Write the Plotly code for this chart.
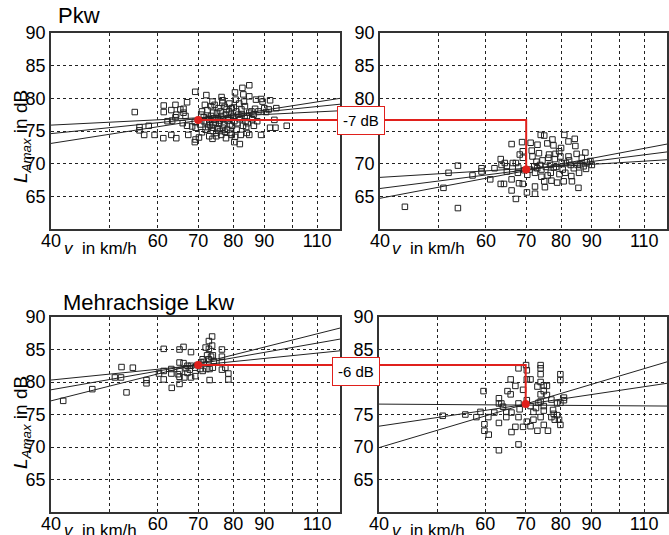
import plotly.graph_objects as go
import math

# ---------------- data ----------------
# Pkw, left panel (v in km/h, LAmax in dB)
pkw_a_v = [55,56,56,58,57,59.3,61.4,61.4,61.3,62.3,63.4,64.2,63.2,64.4,64.2,63.2,64.4,65.4,66.2,66.2,
           67.1,66.7,67.1,66,67.4,69.2,69.1,69.3,69.3,69.1,70.2,68.4,72.2,71.0,71.5,72.3,72.7,73.0,73.9,73.5,
           74.1,74.4,73.9,73.9,75.0,75.2,75.6,75.8,76.5,76.7,76.4,76.9,76.4,77.4,77.8,78.3,79.1,80.5,80.7,80.9,
           80.3,79.6,82.3,82.8,83.1,83.3,83.6,84.2,84.0,85.0,85.0,85.7,86.4,84.2,85.0,87.2,88.9,89.4,90.0,92.0,
           91.5,88.9,90.6,93.5,93.9,94.2,98.0,92.0,87.6,
           71.5,72,73,73.5,74,74.8,75.5,76,76.2,77,77.5,78,78.5,79,79.5,80,80.3,81,81.5,82,82.5,83,83.5,84.5,
           86,86.5,72.5,74.5,76.8,78.8,71,70.5,75,77.8,80.5,82,79.5,85,
           70.8,71.8,72.8,73.2,74.2,75.3,76.0,77.2,78.1,78.7,79.3,80.1,81.2,81.8,82.6,83.8,86.9,88]
pkw_a_L = [77.9,75.6,75.1,75.8,74.4,74.4,78.9,77.9,73.9,76.5,76.6,79.0,78.2,77.5,77.1,74.4,73.9,78.3,77.8,78.4,
           79.4,77.3,75.8,76.2,74.4,81.0,76.4,75.5,73.7,73.3,74.0,75.7,80.5,78.0,77.1,76.2,75.6,74.2,79.5,78.8,
           77.8,76.7,75.5,73.8,74.7,77.8,78.5,76.1,80.2,79.3,77.3,75.5,74.4,78.7,77.5,76.6,74.7,80.9,79.8,78.0,
           73.3,75.8,74.4,81.6,80.6,79.5,78.8,77.2,75.6,82.0,80.3,78.0,77.5,74.7,74.4,79.8,79.9,79.5,78.5,79.7,
           78.3,74.4,77.9,76.7,75.5,78.5,75.8,75.5,76.5,
           76.5,75.2,76.8,77.3,75.0,76.3,77.0,75.0,78.0,76.8,74.9,78.3,77.0,76.0,78.5,77.2,76.5,75.2,77.5,76.8,
           78.3,75.8,77.0,76.2,76.8,75.8,78.2,79.0,79.7,79.2,74.8,76.0,74.2,73.9,74.1,73.0,74.4,77.8,
           77.5,79.0,77.0,75.9,76.0,75.4,76.6,76.0,75.2,78.0,77.5,78.6,76.2,79.2,77.6,76.5,78.4,78.0]

# Pkw, right panel
pkw_b_v = [44.0,53.9,53.9,52,51,57,59,59,61,62,63.5,63.5,64.3,63.7,64.5,65,65,66.2,66.5,66.2,
           66.2,67.3,67.3,67.8,68.1,68.3,68.9,69.1,69.1,69.1,70.2,71.2,71.5,71.7,72.2,72.4,72.4,72.4,73.1,73.5,
           73.8,74.2,74.2,74.0,75.0,75.0,75.2,75.9,76.4,76.7,76.9,77.1,77.4,77.7,78.1,78.5,78.8,79.4,79.8,80.2,
           80.5,80.8,81.0,82.3,82.3,83.0,83.2,83.4,84.3,84.5,84.9,85.2,85.5,85.7,86.6,87.2,87.8,88.0,88.3,89.5,
           90.0,81.5,
           71,70.3,73,75.5,76,77.8,79.5,81.3,74.5,76.2,78.3,80,82.5,84,86,69.5,72.8,67.9]
pkw_b_L = [63.4,63.2,69.7,68.6,66.3,68.2,69.3,68.8,67.6,69.3,70.7,66.9,66.9,69.8,70.1,69.6,68.8,73.0,70.1,67.6,
           65.9,64.6,70.1,68.6,67.0,71.4,73.3,71.9,70.9,66.9,65.6,73.2,72.0,71.1,69.6,68.6,66.5,65.4,72.9,71.6,
           69.8,69.1,68.0,74.4,74.3,67.3,66.4,73.1,71.4,69.8,68.6,67.4,73.7,72.8,70.7,69.5,67.1,71.9,71.1,70.1,
           69.1,67.3,74.4,73.4,71.1,69.8,68.1,67.3,73.8,72.7,71.5,69.8,66.3,68.6,70.9,69.6,71.7,69.2,70.2,70.4,
           69.8,70.1,
           69.1,68.3,69.3,69.5,68.2,69.4,68.4,68.6,70.5,70.9,71.5,72.4,70.5,69.3,69.9,69.0,70.3,69.4]

# Mehrachsige Lkw, left panel
lkw_a_v = [41.9,46.8,51,52.2,52.3,54.6,53.3,57.5,57.5,60.3,61.4,61.4,61.4,63.2,63.2,63.3,65.2,65.2,65.2,65.2,
           65.2,66.2,66.2,66.4,67.2,67.2,68.1,68.1,68.1,69.2,69.2,70.5,71.2,71.2,72.0,72.4,72.9,72.9,72.9,73.1,
           73.1,73.8,73.8,74.0,74.0,71.5,76.6,76.6,76.6,76.6,77.6,78.5,78.5,72.2,67.8,69.8,70.8,66.8,64.8,73.5,
           74.3]
lkw_a_L = [77.1,78.9,80.7,80.7,82.3,82.2,78.4,80.3,79.8,81.3,81.7,85.1,80.4,82.0,81.3,79.1,85.0,83.0,81.7,80.8,
           79.7,85.4,82.9,80.7,81.4,82.5,84.6,82.5,80.7,82.2,80.9,82.0,81.7,83.5,85.3,84.1,86.3,85.1,83.5,82.0,
           80.3,87.0,85.6,84.1,82.2,83.1,85.0,83.9,83.1,81.9,82.2,81.3,80.4,82.0,81.9,82.6,83.0,82.1,81.2,83.9,
           83.2]

# Mehrachsige Lkw, right panel
lkw_b_v = [51,55.6,58,58.9,59.6,59.8,59.8,60.8,60.7,62.1,63.2,63.2,63.2,63.2,63.8,64.2,65.0,65.0,65.3,66.1,
           66.1,66.3,66.3,67.3,67.3,68.1,68.1,68.1,68.1,68.4,69.3,69.3,70.1,70.3,70.3,70.3,70.3,71.3,71.3,71.3,
           72.1,72.1,73.2,73.2,74.1,74.1,74.1,74.1,74.1,74.1,74.1,75.0,75.0,75.0,75.0,75.0,75.9,75.9,76.2,77.2,
           77.2,77.7,77.9,78.2,78.9,78.9,79.5,79.9,79.9,79.9,79.9,81.0,81.0,72.8,73.5]
lkw_b_L = [74.8,75.0,74.6,75.4,78.6,73.5,72.5,71.9,74.6,75.3,77.5,76.7,73.7,69.5,76.7,76.2,75.4,74.6,78.6,80.4,
           78.1,75.3,72.3,79.4,73.1,82.1,76.7,74.6,70.4,75.8,78.8,73.1,82.6,81.8,80.4,77.2,73.9,80.4,76.3,73.2,
           75.4,74.2,79.3,72.5,82.6,82.1,81.2,80.0,78.1,77.0,74.6,79.5,78.6,76.3,75.6,73.4,79.4,78.0,72.5,77.3,
           74.6,75.7,75.1,74.2,76.7,74.9,74.2,81.2,80.3,76.8,73.4,77.6,77.2,76.0,76.8]

# regression / confidence lines: level at v=40 and at v=120
line_v = [40, 120]
pkw_a_lines = [[73.1, 80.0], [74.6, 79.1], [75.9, 78.1]]
pkw_b_lines = [[64.7, 73.0], [66.2, 71.8], [67.9, 70.6]]
lkw_a_lines = [[77.1, 88.3], [78.8, 86.6], [80.3, 84.8]]
lkw_b_lines = [[69.9, 83.1], [73.2, 79.8], [76.6, 76.3]]

# reference points at 70 km/h (left level, right level)
ref_v = 70
pkw_ref = [76.7, 69.1]
lkw_ref = [82.6, 76.6]
pkw_diff = "-7 dB"
lkw_diff = "-6 dB"

x_ticks = [40, 50, 60, 70, 80, 90, 100, 110]
x_ticktext = ["40", "", "60", "70", "80", "90", "", "110"]
y_ticks = [65, 70, 75, 80, 85, 90]
y_ticktext = [["65", "70", "75", "80", "85", "90"],
              ["65", "70", "", "80", "85", "90"],     # 75 hidden behind the -7 dB box
              ["65", "70", "75", "80", "85", "90"],
              ["65", "70", "75", "", "85", "90"]]     # 80 hidden behind the -6 dB box
titles = ["Pkw", "Mehrachsige Lkw"]

# ---------------- figure ----------------
W, H = 669, 535
FONT = "Liberation Sans, Arial, sans-serif"

def px_x(a, b):
    return [a / W, b / W]

def px_y(top, bottom):
    return [1 - bottom / H, 1 - top / H]

panels = [
    dict(x=px_x(51, 340), y=px_y(33, 229)),
    dict(x=px_x(380, 667), y=px_y(33, 229)),
    dict(x=px_x(51, 340), y=px_y(317, 512)),
    dict(x=px_x(379, 667), y=px_y(317, 512)),
]

fig = go.Figure()
layout = dict(width=W, height=H, margin=dict(l=0, r=0, t=0, b=0, pad=0, autoexpand=False),
              paper_bgcolor="white", plot_bgcolor="white", showlegend=False,
              font=dict(family=FONT, color="black"))

for i, p in enumerate(panels):
    s = "" if i == 0 else str(i + 1)
    layout["xaxis" + s] = dict(domain=p["x"], anchor="y" + s, type="log",
                               range=[math.log10(40), math.log10(120)],
                               tickvals=x_ticks, ticktext=x_ticktext, ticks="",
                               ticklabelstandoff=-5,
                               showgrid=True, gridcolor="#222", griddash="dot", gridwidth=1,
                               showline=True, mirror=True, linecolor="#333", linewidth=1.5,
                               zeroline=False, automargin=False,
                               tickfont=dict(size=18, family=FONT))
    layout["yaxis" + s] = dict(domain=p["y"], anchor="x" + s, range=[60, 90],
                               tickvals=y_ticks, ticktext=y_ticktext[i], ticks="",
                               showgrid=True, gridcolor="#222", griddash="dot", gridwidth=1,
                               showline=True, mirror=True, linecolor="#333", linewidth=1.5,
                               zeroline=False, automargin=False,
                               tickfont=dict(size=18, family=FONT))
fig.update_layout(**layout)

datasets = [(pkw_a_v, pkw_a_L, pkw_a_lines), (pkw_b_v, pkw_b_L, pkw_b_lines),
            (lkw_a_v, lkw_a_L, lkw_a_lines), (lkw_b_v, lkw_b_L, lkw_b_lines)]

for i, (vv, LL, lines) in enumerate(datasets):
    xa = "x" if i == 0 else "x" + str(i + 1)
    ya = "y" if i == 0 else "y" + str(i + 1)
    fig.add_trace(go.Scatter(x=vv, y=LL, mode="markers", xaxis=xa, yaxis=ya,
                             marker=dict(symbol="square-open", size=5.5, color="#222",
                                         line=dict(width=1, color="#222"))))
    for ln in lines:
        fig.add_trace(go.Scatter(x=line_v, y=ln, mode="lines", xaxis=xa, yaxis=ya,
                                 line=dict(color="#222", width=1)))

RED = "#e0201c"
for k, ref in enumerate([pkw_ref, lkw_ref]):
    left = 2 * k
    right = 2 * k + 1
    xl = "x" if left == 0 else "x" + str(left + 1)
    yl = "y" if left == 0 else "y" + str(left + 1)
    xr = "x" + str(right + 1)
    yr = "y" + str(right + 1)
    fig.add_trace(go.Scatter(x=[ref_v, 120], y=[ref[0], ref[0]], mode="lines",
                             xaxis=xl, yaxis=yl, line=dict(color=RED, width=2)))
    fig.add_trace(go.Scatter(x=[ref_v], y=[ref[0]], mode="markers", xaxis=xl, yaxis=yl,
                             marker=dict(color=RED, size=8)))
    fig.add_trace(go.Scatter(x=[40, ref_v, ref_v], y=[ref[0], ref[0], ref[1]], mode="lines",
                             xaxis=xr, yaxis=yr, line=dict(color=RED, width=2)))
    fig.add_trace(go.Scatter(x=[ref_v], y=[ref[1]], mode="markers", xaxis=xr, yaxis=yr,
                             marker=dict(color=RED, size=8)))

annotations = []
annotations.append(dict(x=361 / W, y=1 - 120 / H, xref="paper", yref="paper",
                        text=pkw_diff, showarrow=False, font=dict(size=15, family=FONT),
                        bgcolor="white", bordercolor=RED, borderwidth=1, borderpad=5,
                        xanchor="center", yanchor="middle"))
annotations.append(dict(x=356 / W, y=1 - 371 / H, xref="paper", yref="paper",
                        text=lkw_diff, showarrow=False, font=dict(size=15, family=FONT),
                        bgcolor="white", bordercolor=RED, borderwidth=1, borderpad=5,
                        xanchor="center", yanchor="middle"))
annotations.append(dict(x=56 / W, y=1 - 15 / H, xref="paper", yref="paper", text=titles[0],
                        showarrow=False, font=dict(size=22, family=FONT),
                        xanchor="left", yanchor="middle"))
annotations.append(dict(x=61 / W, y=1 - 302 / H, xref="paper", yref="paper", text=titles[1],
                        showarrow=False, font=dict(size=22, family=FONT),
                        xanchor="left", yanchor="middle"))
for yc in [137, 423]:
    annotations.append(dict(x=22 / W, y=1 - yc / H, xref="paper", yref="paper",
                            text="<i>L</i><sub><i>Amax</i></sub> in dB", textangle=-90,
                            showarrow=False, font=dict(size=19, family=FONT),
                            xanchor="center", yanchor="middle"))
for (xc, yc) in [(100, 248), (100, 530), (428, 248), (428, 530)]:
    annotations.append(dict(x=xc / W, y=1 - yc / H, xref="paper", yref="paper",
                            text="<i>v</i>  in km/h", showarrow=False,
                            font=dict(size=17, family=FONT),
                            xanchor="center", yanchor="middle"))
fig.update_layout(annotations=annotations)

fig.write_html("out.html", config={"displayModeBar": False},
               post_script="document.body.style.margin='0px';document.body.style.overflow='hidden';")
